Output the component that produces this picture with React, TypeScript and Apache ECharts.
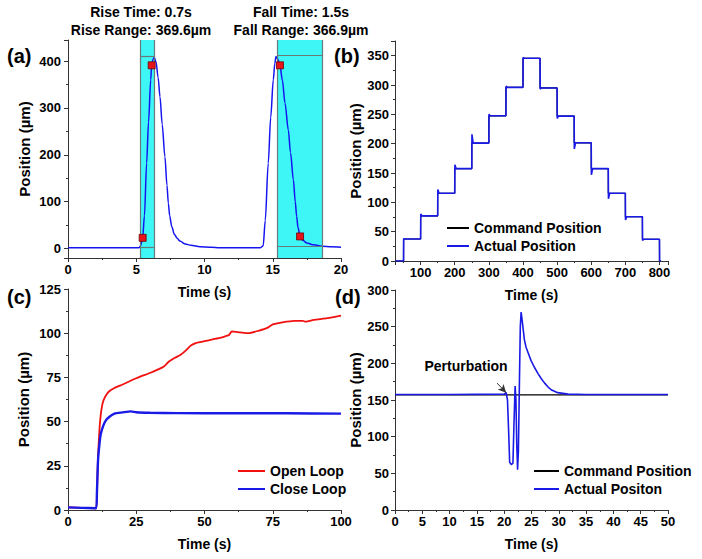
import React, { useEffect, useRef } from "react";
import * as echarts from "echarts";

const FONT = '"Liberation Sans", Arial, Helvetica, sans-serif';

// ---------- Panel (a): rise / fall response ----------
const aTime = [0, 1, 3, 5.2, 5.3, 5.47, 5.6, 5.76, 5.9, 6.06, 6.13, 6.22, 6.32, 6.45, 6.6, 6.74, 6.9, 7.1, 7.25, 7.35, 7.45, 7.6, 7.8, 8.0, 8.2, 8.6, 9.0, 9.67, 10.5, 11.1, 13, 14.1, 14.3, 14.45, 14.67, 14.85, 15.04, 15.15, 15.24, 15.35, 15.53, 15.7, 15.9, 16.14, 16.3, 16.51, 16.65, 16.75, 16.85, 17.0, 17.2, 17.5, 18.0, 18.6, 19.3, 20];
const aPos = [2, 2, 1.8, 2, 5, 23, 70, 182, 270, 360, 391, 403, 408, 398, 365, 324, 265, 196, 135, 97, 70, 47, 30, 22, 16, 10, 7, 4, 3, 2, 2, 2, 6, 60, 182, 280, 360, 395, 410, 405, 391, 360, 310, 253, 205, 147, 100, 69, 45, 26, 18, 12, 8, 5, 4, 3];
const aMarkTime = [5.47, 6.13, 15.53, 17.0];
const aMarkPos = [23, 391, 391, 26];
const bandStart = [5.3, 15.33];
const bandEnd = [6.3, 18.63];
const bandTop = [410, 413];
const bandBottom = [2, 6];
const aXTicks = { min: 0, max: 20, interval: 5 };
const aYRange = { min: -20, max: 445 };

// ---------- Panel (b): staircase ----------
const bStepTimes = [50, 100, 150, 200, 250, 300, 350, 400, 450, 500, 550, 600, 650, 700, 750, 800];
const bLevels = [0, 37.5, 77, 115.5, 157.5, 201, 247.5, 296, 345.5, 295, 247, 201.5, 157.5, 115.5, 75.5, 37, 0];
const bPeaks = [38, 80, 122, 164, 216, 250, 298, 347, 293, 243, 191, 147, 106, 70, 35, 0];
const bStart = 26;
const bEnd = 805;

// ---------- Panel (c): open / close loop ----------
const cOpenTime = [0, 5, 10.3, 10.6, 11, 11.5, 12, 12.5, 13, 14, 15, 17, 20, 25, 30, 33, 35, 37, 39, 41, 43, 45, 47, 50, 53, 56, 58, 59, 60, 63, 66, 70, 73, 75, 78, 80, 83, 86, 87, 90, 95, 100];
const cOpen = [1.5, 1.2, 1, 10, 30, 45, 54, 59, 62, 65, 67, 69, 71, 74.5, 77.5, 79.5, 81, 84, 86, 87.5, 90, 93, 94.5, 95.5, 96.5, 97.5, 98.5, 99, 101, 100.5, 100, 101.5, 103, 105, 106, 106.5, 107, 107, 106.5, 107.5, 108.5, 110];
const cCloseTime = [0, 5, 10.3, 10.6, 11, 11.5, 12, 13, 14, 15, 17, 20, 23, 25, 30, 40, 60, 80, 100];
const cClose = [1.5, 1.2, 1, 10, 28, 37, 43, 48, 51, 52.5, 54.5, 55.2, 55.8, 55.3, 55, 54.8, 54.7, 54.7, 54.5];

// ---------- Panel (d): perturbation ----------
const dTime = [0, 10, 20, 20.35, 20.6, 20.8, 21.0, 21.3, 21.6, 21.8, 22.0, 22.15, 22.3, 22.45, 22.6, 22.8, 22.95, 23.1, 23.3, 23.7, 24.0, 24.5, 24.9, 25.5, 26.2, 26.8, 27.4, 28.0, 28.6, 29.8, 31.7, 35, 50];
const dActual = [157.5, 157.5, 158, 160, 150, 110, 65, 62, 64, 120, 169, 150, 90, 55, 80, 180, 250, 270, 258, 232, 222, 212, 204, 195, 186, 179, 173, 168, 164, 160, 158, 157.5, 157.5];
const dCmdTime = [0, 50];
const dCmd = [157, 157];
const dArrowFrom = [18.7, 173];
const dArrowTo = [20.35, 160];

const zip = (xs: number[], ys: number[]) => xs.map((x, i) => [x, ys[i]]);

function buildStepCommand() {
  const pts: number[][] = [[bStart, bLevels[0]]];
  bStepTimes.forEach((t, i) => {
    pts.push([t, bLevels[i]]);
    pts.push([t, bLevels[i + 1]]);
  });
  pts.push([bEnd, bLevels[bLevels.length - 1]]);
  return pts;
}
function buildStepActual() {
  const pts: number[][] = [[bStart, bLevels[0]]];
  bStepTimes.forEach((t, i) => {
    pts.push([t, bLevels[i]]);
    pts.push([t + 0.5, bPeaks[i]]);
    pts.push([t + 4, bLevels[i + 1]]);
  });
  pts.push([bEnd, bLevels[bLevels.length - 1]]);
  return pts;
}

const axisBase = (extra: any) => ({
  type: "value",
  axisLine: { show: true, onZero: false, lineStyle: { color: "#333", width: 1 } },
  axisTick: { show: true, length: 4, lineStyle: { color: "#333" } },
  minorTick: { show: true, splitNumber: 2, length: 2, lineStyle: { color: "#333" } },
  splitLine: { show: false },
  axisLabel: { color: "#000", fontWeight: "bold", fontSize: 13, fontFamily: FONT, margin: 5 },
  nameLocation: "middle",
  nameTextStyle: { color: "#000", fontWeight: "bold", fontSize: 14, fontFamily: FONT },
  ...extra,
});
const yName = (gap: number) => ({
  name: "Position (µm)",
  nameGap: gap,
  nameTextStyle: { color: "#000", fontWeight: "bold", fontSize: 15, fontFamily: FONT },
});

const legendText = { fontSize: 14, fontWeight: "bold", fontFamily: FONT, color: "#000", lineHeight: 16 };

export default function App() {
  const ref = useRef<HTMLDivElement>(null);
  useEffect(() => {
    document.body.style.margin = "0";
    if (!ref.current) return;
    const chart = echarts.init(ref.current, undefined, { renderer: "svg" });
    const txt = (text: string, x: number, y: number, size: number, align = "center") => ({
      type: "text",
      x,
      y,
      style: { text, fill: "#000", fontSize: size, fontWeight: "bold", fontFamily: FONT, align, verticalAlign: "middle" },
    });
    const option: any = {
      animation: false,
      backgroundColor: "#fff",
      grid: [
        { left: 68, top: 40, width: 273, height: 218 },
        { left: 395, top: 41, width: 273, height: 220 },
        { left: 68, top: 289, width: 273, height: 221 },
        { left: 395, top: 290, width: 273, height: 220 },
      ],
      xAxis: [
        axisBase({ gridIndex: 0, ...aXTicks, name: "Time (s)", nameGap: 27 }),
        axisBase({ gridIndex: 1, min: 25, max: 825, splitNumber: 8, name: "Time (s)", nameGap: 27,
          axisLabel: { color: "#000", fontWeight: "bold", fontSize: 13, fontFamily: FONT, margin: 5, showMinLabel: false, showMaxLabel: false } }),
        axisBase({ gridIndex: 2, min: 0, max: 100, interval: 25, name: "Time (s)", nameGap: 27 }),
        axisBase({ gridIndex: 3, min: 0, max: 50, interval: 5, name: "Time (s)", nameGap: 27 }),
      ],
      yAxis: [
        axisBase({ gridIndex: 0, ...aYRange, splitNumber: 5, ...yName(36),
          axisLabel: { color: "#000", fontWeight: "bold", fontSize: 13, fontFamily: FONT, margin: 7, showMinLabel: false, showMaxLabel: false } }),
        axisBase({ gridIndex: 1, min: 0, max: 375, interval: 50, ...yName(30),
          axisLabel: { color: "#000", fontWeight: "bold", fontSize: 13, fontFamily: FONT, margin: 6, showMaxLabel: false } }),
        axisBase({ gridIndex: 2, min: 0, max: 125, interval: 25, ...yName(37),
          axisLabel: { color: "#000", fontWeight: "bold", fontSize: 13, fontFamily: FONT, margin: 7 } }),
        axisBase({ gridIndex: 3, min: 0, max: 300, interval: 50, ...yName(30),
          axisLabel: { color: "#000", fontWeight: "bold", fontSize: 13, fontFamily: FONT, margin: 6 } }),
      ],
      legend: [
        { data: ["Command Position", "Actual Position"], orient: "vertical", left: 447, top: 220, itemWidth: 22, itemHeight: 2, itemGap: 2, icon: "rect", padding: 0, selectedMode: false, textStyle: legendText },
        { data: ["Open Loop", "Close Loop"], orient: "vertical", left: 238, top: 463, itemWidth: 27, itemHeight: 2, itemGap: 2, icon: "rect", padding: 0, selectedMode: false, textStyle: legendText },
        { data: ["Command Position", "Actual Positon"], orient: "vertical", left: 534, top: 463, itemWidth: 25, itemHeight: 2, itemGap: 2, icon: "rect", padding: 0, selectedMode: false, textStyle: legendText },
      ],
      series: [
        // (a) bands
        {
          type: "line", name: "bands", xAxisIndex: 0, yAxisIndex: 0, data: [], z: 1, silent: true,
          markArea: {
            silent: true,
            itemStyle: { color: "#3ff6f6", borderWidth: 0 },
            data: bandStart.map((s, i) => [{ xAxis: s }, { xAxis: bandEnd[i] }]),
          },
          markLine: {
            silent: true, symbol: ["none", "none"], label: { show: false },
            lineStyle: { color: "#667a7a", width: 1.2, type: "solid" },
            data: [
              ...bandStart.map((s) => ({ xAxis: s })),
              ...bandEnd.map((e) => ({ xAxis: e })),
              ...bandStart.map((s, i) => [{ coord: [s, bandTop[i]] }, { coord: [bandEnd[i], bandTop[i]] }]),
              ...bandStart.map((s, i) => [{ coord: [s, bandBottom[i]] }, { coord: [bandEnd[i], bandBottom[i]] }]),
            ],
          },
        },
        {
          type: "line", name: "response", xAxisIndex: 0, yAxisIndex: 0, data: zip(aTime, aPos),
          showSymbol: false, smooth: 0.3, smoothMonotone: "x", z: 3,
          lineStyle: { color: "#1515f0", width: 1.5 }, itemStyle: { color: "#1515f0" },
        },
        {
          type: "scatter", name: "marks", xAxisIndex: 0, yAxisIndex: 0, data: zip(aMarkTime, aMarkPos),
          symbol: "rect", symbolSize: 7, z: 5,
          itemStyle: { color: "#e8141c", borderColor: "#700000", borderWidth: 0.8, opacity: 1 },
        },
        // (b)
        {
          type: "line", name: "Command Position", xAxisIndex: 1, yAxisIndex: 1, data: buildStepCommand(),
          showSymbol: false, lineStyle: { color: "#000", width: 1.2 }, itemStyle: { color: "#000" }, z: 2,
        },
        {
          type: "line", name: "Actual Position", xAxisIndex: 1, yAxisIndex: 1, data: buildStepActual(),
          showSymbol: false, lineStyle: { color: "#1a1ae6", width: 1.6 }, itemStyle: { color: "#1a1ae6" }, z: 3,
        },
        // (c)
        {
          type: "line", name: "Open Loop", xAxisIndex: 2, yAxisIndex: 2, data: zip(cOpenTime, cOpen),
          showSymbol: false, smooth: 0.2, lineStyle: { color: "#f01010", width: 1.8 }, itemStyle: { color: "#f01010" }, z: 2,
        },
        {
          type: "line", name: "Close Loop", xAxisIndex: 2, yAxisIndex: 2, data: zip(cCloseTime, cClose),
          showSymbol: false, smooth: 0.2, lineStyle: { color: "#1a1ae6", width: 2.4 }, itemStyle: { color: "#1a1ae6" }, z: 3,
        },
        // (d)
        {
          type: "line", name: "Command Position", xAxisIndex: 3, yAxisIndex: 3, data: zip(dCmdTime, dCmd),
          showSymbol: false, lineStyle: { color: "#000", width: 1.2 }, itemStyle: { color: "#000" }, z: 2,
          markLine: {
            silent: true, symbol: ["none", "arrow"], symbolSize: [6, 8], label: { show: false },
            lineStyle: { color: "#333", width: 1, type: "solid" },
            data: [[{ coord: dArrowFrom }, { coord: dArrowTo }]],
          },
        },
        {
          type: "line", name: "Actual Positon", xAxisIndex: 3, yAxisIndex: 3, data: zip(dTime, dActual),
          showSymbol: false, lineStyle: { color: "#1a1ae6", width: 1.6 }, itemStyle: { color: "#1a1ae6" }, z: 3,
        },
      ],
      graphic: [
        txt("Rise Time: 0.7s", 141, 12, 14),
        txt("Rise Range: 369.6µm", 141, 30, 14),
        txt("Fall Time: 1.5s", 301, 12, 14),
        txt("Fall Range: 366.9µm", 301, 30, 14),
        txt("(a)", 7, 56, 20, "left"),
        txt("(b)", 334, 56, 20, "left"),
        txt("(c)", 7, 297, 20, "left"),
        txt("(d)", 335, 297, 20, "left"),
        txt("Perturbation", 466, 366, 14),
      ],
    };
    chart.setOption(option);
    return () => chart.dispose();
  }, []);
  return <div ref={ref} style={{ position: "absolute", left: 0, top: 0, width: 702, height: 559 }} />;
}
